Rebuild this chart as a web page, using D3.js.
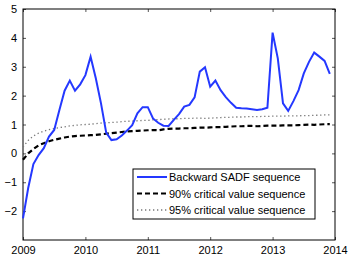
<!DOCTYPE html>
<html>
<head>
  <meta charset="utf-8">
  <script src="https://d3js.org/d3.v7.min.js"></script>
  <style>
    body { margin: 0; background: #fff; }
    text { font-family: "Liberation Sans", Arial, sans-serif; }
  </style>
</head>
<body>
  <svg id="grafico"></svg>
  <script>
    // monthly values, Jan 2009 .. Dec 2013
    const sadf = [-2.25, -1.2, -0.37, -0.06, 0.18, 0.58, 0.81, 1.50, 2.17, 2.52, 2.17, 2.39,
      2.71, 3.35, 2.60, 1.73, 0.72, 0.46, 0.49, 0.62, 0.79, 0.98, 1.39, 1.60,
      1.60, 1.21, 1.06, 0.96, 0.95, 1.16, 1.36, 1.62, 1.68, 1.94, 2.83, 2.98,
      2.31, 2.52, 2.19, 1.95, 1.75, 1.58, 1.56, 1.55, 1.53, 1.50, 1.53, 1.58,
      4.18, 3.29, 1.73, 1.47, 1.81, 2.19, 2.77, 3.17, 3.49, 3.35, 3.20, 2.75];
    const cv90 = [-0.22, 0.0, 0.15, 0.28, 0.35, 0.42, 0.47, 0.51, 0.55, 0.58, 0.60, 0.61,
      0.62, 0.63, 0.64, 0.66, 0.68, 0.70, 0.72, 0.74, 0.76, 0.77, 0.78, 0.79,
      0.80, 0.81, 0.80, 0.83, 0.85, 0.86, 0.86, 0.87, 0.87, 0.88, 0.89, 0.89,
      0.90, 0.91, 0.91, 0.92, 0.93, 0.94, 0.94, 0.95, 0.95, 0.94, 0.95, 0.96,
      0.96, 0.96, 0.97, 0.97, 0.97, 0.98, 0.99, 1.00, 0.99, 1.00, 1.01, 1.01];
    const cv95 = [0.22, 0.45, 0.60, 0.70, 0.77, 0.82, 0.86, 0.89, 0.92, 0.95, 0.97, 0.99,
      1.00, 1.01, 1.03, 1.05, 1.06, 1.07, 1.08, 1.10, 1.11, 1.12, 1.13, 1.14,
      1.14, 1.16, 1.17, 1.18, 1.19, 1.20, 1.20, 1.21, 1.21, 1.22, 1.22, 1.21,
      1.22, 1.23, 1.24, 1.25, 1.25, 1.26, 1.26, 1.27, 1.27, 1.27, 1.28, 1.28,
      1.29, 1.29, 1.29, 1.30, 1.30, 1.30, 1.31, 1.31, 1.32, 1.32, 1.33, 1.33];
    const xTicks = [2009, 2010, 2011, 2012, 2013, 2014];
    const yTicks = [-2, -1, 0, 1, 2, 3, 4, 5];
    const nombres = ["Backward SADF sequence", "90% critical value sequence", "95% critical value sequence"];

    const W = 349, H = 263;
    const m = { left: 23, right: 14, top: 9, bottom: 23 };

    const svg = d3.select("#grafico").attr("width", W).attr("height", H);

    const x = d3.scaleLinear().domain([2009, 2014]).range([m.left, W - m.right]);
    const y = d3.scaleLinear().domain([-3, 5]).range([H - m.bottom, m.top]);
    const fecha = i => 2009 + i / 12;

    // axes, ticks pointing inward, mirrored on top / right
    svg.append("g").attr("transform", `translate(0,${H - m.bottom})`)
      .call(d3.axisBottom(x).tickValues(xTicks).tickFormat(d3.format("d")).tickSizeInner(-3).tickSizeOuter(0).tickPadding(6));
    svg.append("g").attr("transform", `translate(0,${m.top})`)
      .call(d3.axisTop(x).tickValues(xTicks).tickFormat("").tickSizeInner(-3).tickSizeOuter(0));
    svg.append("g").attr("transform", `translate(${m.left},0)`)
      .call(d3.axisLeft(y).tickValues(yTicks).tickFormat(d => d < 0 ? "\u2212" + (-d) : d).tickSizeInner(-3).tickSizeOuter(0).tickPadding(6));
    svg.append("g").attr("transform", `translate(${W - m.right},0)`)
      .call(d3.axisRight(y).tickValues(yTicks).tickFormat("").tickSizeInner(-3).tickSizeOuter(0));
    svg.selectAll(".tick text").attr("font-size", 11).attr("fill", "#000")
      .attr("font-family", "Liberation Sans, Arial, sans-serif");
    svg.selectAll(".tick line").attr("stroke", "#555");
    svg.selectAll(".domain").remove();
    svg.append("rect").attr("x", m.left).attr("y", m.top)
      .attr("width", W - m.left - m.right).attr("height", H - m.top - m.bottom)
      .attr("fill", "none").attr("stroke", "#000").attr("stroke-width", 1);

    const linea = d3.line().x((d, i) => x(fecha(i))).y(d => y(d));

    const estilos = [
      { color: "#2438ff", ancho: 2, dash: null },
      { color: "#000", ancho: 2.2, dash: "5,3" },
      { color: "#777", ancho: 1.3, dash: "1.3,2.7" }
    ];
    const series = [sadf, cv90, cv95];

    [2, 1, 0].forEach(k => {
      svg.append("path").datum(series[k])
        .attr("d", linea)
        .attr("fill", "none")
        .attr("stroke", estilos[k].color)
        .attr("stroke-width", estilos[k].ancho)
        .attr("stroke-dasharray", estilos[k].dash);
    });

    // legend
    const ley = svg.append("g").attr("transform", "translate(133,169)");
    ley.append("rect").attr("width", 182).attr("height", 50)
      .attr("fill", "#fff").attr("stroke", "#000").attr("stroke-width", 1);
    nombres.forEach((n, k) => {
      const yy = 8 + k * 16.5;
      ley.append("line").attr("x1", 4).attr("x2", 34).attr("y1", yy).attr("y2", yy)
        .attr("stroke", estilos[k].color).attr("stroke-width", estilos[k].ancho)
        .attr("stroke-dasharray", estilos[k].dash);
      ley.append("text").attr("x", 36).attr("y", yy + 4).attr("font-size", 11).text(n);
    });
  </script>
</body>
</html>
